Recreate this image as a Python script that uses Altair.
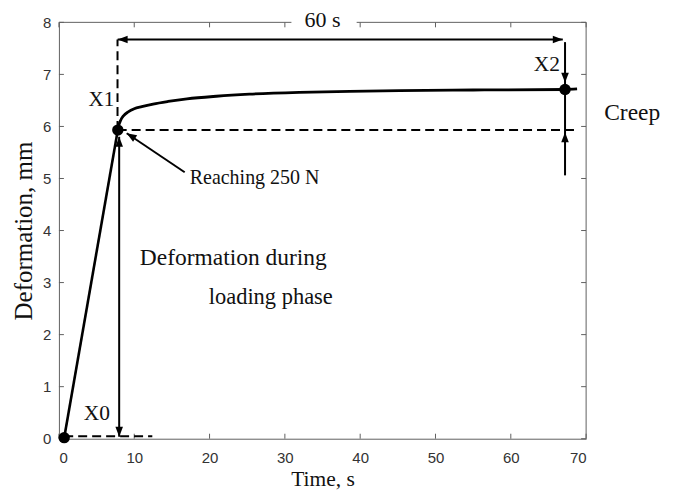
import altair as alt
import pandas as pd

# ---- data ----
load_x = [0.7, 7.82]
load_y = [0.02, 5.93]

creep_x = [7.82, 7.95, 8.2, 8.6, 9.2, 10.0, 11.0, 12.5, 14.5, 17.0, 20.9, 25.3, 31.9, 38.6, 45.2, 55.0, 67.2, 68.8]
creep_y = [5.93, 6.02, 6.12, 6.21, 6.28, 6.34, 6.38, 6.43, 6.48, 6.53, 6.58, 6.62, 6.655, 6.675, 6.69, 6.70, 6.71, 6.72]

marker_x = [0.7, 7.82, 67.2]
marker_y = [0.02, 5.93, 6.71]

# solid annotation segments
solid_x = [7.8, 67.2, 8.0, 16.7]
solid_y = [7.67, 7.62, 0.04, 5.12]
solid_x2 = [66.9, 67.2, 8.0, 9.0]
solid_y2 = [7.67, 5.06, 5.80, 5.87]

# dashed annotation segments
dash_x = [7.78, 7.8, 0.7]
dash_y = [5.93, 5.93, 0.045]
dash_x2 = [7.78, 68.7, 12.4]
dash_y2 = [7.67, 5.93, 0.045]

# arrowheads (tip position and direction)
head_x = [7.8, 66.9, 67.2, 67.2, 8.0, 8.0, 9.0]
head_y = [7.67, 7.67, 6.84, 5.89, 0.04, 5.80, 5.87]
head_angle = [270, 90, 180, 0, 180, 0, 302.5]

# annotation texts
text_labels = ["60 s", "X1", "X2", "X0", "Reaching 250 N", "Deformation during", "loading phase", "Creep"]
text_x = [35.0, 5.63, 64.8, 5.04, 17.37, 10.74, 19.89, 72.4]
text_y = [8.05, 6.50, 7.18, 0.48, 5.00, 3.47, 2.72, 6.25]
text_size = [22, 21, 21.5, 21.5, 20, 23.5, 22.5, 23.5]
text_align = ["center", "center", "center", "center", "left", "left", "left", "left"]

x_ticks = [0, 10, 20, 30, 40, 50, 60, 70]
y_ticks = [0, 1, 2, 3, 4, 5, 6, 7, 8]

# gap in the top frame behind "60 s"
top_frame_x = [0, 39.5]
top_frame_x2 = [30.9, 70]

W, H = 528, 417
SERIF = "Liberation Serif"
SANS = "Liberation Sans"
GRAY = "#606060"

xs = alt.Scale(domain=[0, 70], nice=False, zero=False)
ys = alt.Scale(domain=[0, 8], nice=False, zero=False)

x_axis = alt.Axis(values=x_ticks, title="Time, s", ticks=False, grid=False,
                  labelFont=SANS, labelFontSize=15, labelColor="#333333", labelPadding=12,
                  domainColor=GRAY, titleFont=SERIF, titleFontSize=21.5, titleFontWeight="normal",
                  titleColor="#111111", titlePadding=3)
y_axis = alt.Axis(values=y_ticks, title="Deformation, mm", ticks=False, grid=False,
                  labelFont=SANS, labelFontSize=15, labelColor="#333333", labelPadding=8,
                  domainColor=GRAY, titleFont=SERIF, titleFontSize=25, titleFontWeight="normal",
                  titleColor="#111111", titlePadding=6)

X = lambda f="x": alt.X(f + ":Q", scale=xs, axis=x_axis)
Y = lambda f="y": alt.Y(f + ":Q", scale=ys, axis=y_axis)

load = alt.Chart(pd.DataFrame({"x": load_x, "y": load_y})).mark_line(
    color="black", strokeWidth=2.6).encode(x=X(), y=Y())

creep = alt.Chart(pd.DataFrame({"x": creep_x, "y": creep_y})).mark_line(
    color="black", strokeWidth=2.8, interpolate="monotone").encode(x=X(), y=Y())

markers = alt.Chart(pd.DataFrame({"x": marker_x, "y": marker_y})).mark_point(
    filled=True, color="black", opacity=1, size=130, shape="circle").encode(x=X(), y=Y())

solid = alt.Chart(pd.DataFrame({"x": solid_x, "y": solid_y, "x2": solid_x2, "y2": solid_y2})).mark_rule(
    color="black", strokeWidth=2).encode(x=X(), y=Y(), x2="x2:Q", y2="y2:Q")

dashed = alt.Chart(pd.DataFrame({"x": dash_x, "y": dash_y, "x2": dash_x2, "y2": dash_y2})).mark_rule(
    color="black", strokeWidth=2, strokeDash=[9, 5]).encode(x=X(), y=Y(), x2="x2:Q", y2="y2:Q")

heads = alt.Chart(pd.DataFrame({"x": head_x, "y": head_y, "a": head_angle})).mark_point(
    filled=True, color="black", opacity=1, size=400, shape="M0,0L-0.38,1L0.38,1Z").encode(
    x=X(), y=Y(), angle=alt.Angle("a:Q", scale=None))

white = alt.Chart(pd.DataFrame({"x": [30.9], "x2": [39.5], "y": [7.96], "y2": [8.2]})).mark_rect(
    color="white", clip=False).encode(x=X(), x2="x2:Q", y=Y(), y2="y2:Q")

top_frame = alt.Chart(pd.DataFrame({"x": top_frame_x, "x2": top_frame_x2})).mark_rule(
    color=GRAY, strokeWidth=1).encode(x=X(), x2="x2:Q", y=alt.value(0))
right_frame = alt.Chart(pd.DataFrame({"x": [70]})).mark_rule(color=GRAY, strokeWidth=1).encode(
    x=X(), y=alt.value(0), y2=alt.value(H))

xt = pd.DataFrame({"x": x_ticks})
yt = pd.DataFrame({"y": y_ticks})
xticks_b = alt.Chart(xt).mark_rule(color=GRAY).encode(x=X(), y=alt.value(H), y2=alt.value(H - 5))
xticks_t = alt.Chart(xt).mark_rule(color=GRAY).encode(x=X(), y=alt.value(0), y2=alt.value(5))
yticks_l = alt.Chart(yt).mark_rule(color=GRAY).encode(y=Y(), x=alt.value(0), x2=alt.value(5))
yticks_r = alt.Chart(yt).mark_rule(color=GRAY).encode(y=Y(), x=alt.value(W), x2=alt.value(W - 5))

texts = alt.Chart(pd.DataFrame({"x": text_x, "y": text_y, "t": text_labels,
                                "al": text_align, "fs": text_size}))
text_layers = []
for al in ["center", "left"]:
    text_layers.append(
        texts.transform_filter(alt.datum.al == al).mark_text(
            font=SERIF, color="#111111", align=al, baseline="middle").encode(
            x=X(), y=Y(), text="t:N", size=alt.Size("fs:Q", scale=None)))

chart = alt.layer(
    xticks_b, xticks_t, yticks_l, yticks_r, top_frame, right_frame,
    dashed, solid, load, creep, heads, markers, white, *text_layers
).properties(
    width=W, height=H,
    autosize=alt.AutoSizeParams(type="none"),
    padding={"left": 51, "top": 14, "right": 80, "bottom": 54},
).configure_view(stroke=None)

chart.save("out.html", embed_options={"renderer": "svg", "actions": False})
